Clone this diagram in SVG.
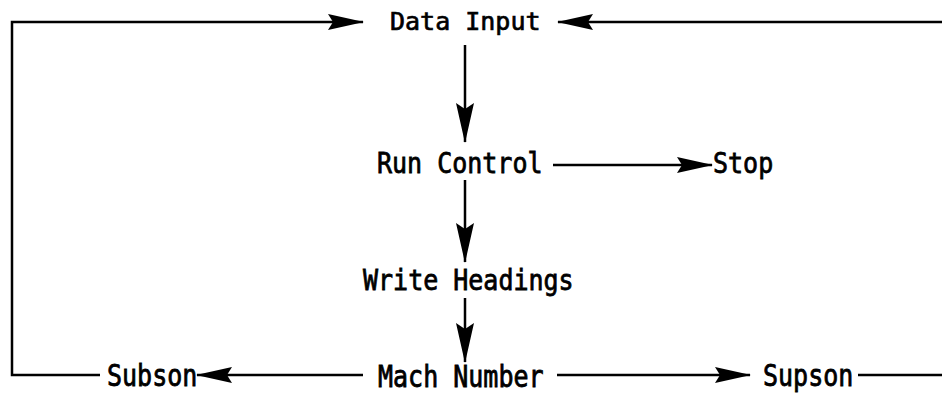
<svg xmlns="http://www.w3.org/2000/svg" width="942" height="393" viewBox="0 0 942 393">
<style>
.t{font-family:"DejaVu Sans Mono","Liberation Mono",monospace;font-size:25px;fill:#000;stroke:#000;stroke-width:0.7}
.c{fill:none;stroke:#000;stroke-width:2.5}
</style>
<defs>
<marker id="ah" viewBox="0 0 36 16" refX="35" refY="8" markerWidth="36" markerHeight="16" markerUnits="userSpaceOnUse" orient="auto">
<path d="M0,0 L36,8 L0,16 L5,8 Z" fill="#000"/>
</marker>
<marker id="av" viewBox="0 0 40 18" refX="39" refY="9" markerWidth="40" markerHeight="18" markerUnits="userSpaceOnUse" orient="auto">
<path d="M0,0 L40,9 L0,18 L6,9 Z" fill="#000"/>
</marker>
</defs>
<rect width="942" height="393" fill="#fff"/>
<g id="connectors">
<path class="c" d="M100,375 H12 V22 H363" marker-end="url(#ah)"/>
<path class="c" d="M942,22 H558" marker-end="url(#ah)"/>
<path class="c" d="M465,45 V142" marker-end="url(#av)"/>
<path class="c" d="M553,165 H712" marker-end="url(#ah)"/>
<path class="c" d="M465,180 V262" marker-end="url(#av)"/>
<path class="c" d="M465,298 V362" marker-end="url(#av)"/>
<path class="c" d="M363,375 H197" marker-end="url(#ah)"/>
<path class="c" d="M557,375 H750" marker-end="url(#ah)"/>
<path class="c" d="M858,375 H942"/>
</g>
<g id="data-input"><text class="t" transform="translate(390,30)">Data Input</text></g>
<g id="run-control"><text class="t" transform="translate(377,173) scale(1,1.1)">Run Control</text></g>
<g id="stop"><text class="t" transform="translate(713,173) scale(1,1.1)">Stop</text></g>
<g id="write-headings"><text class="t" transform="translate(363,290) scale(1,1.1)">Write Headings</text></g>
<g id="mach-number"><text class="t" transform="translate(378,387) scale(1,1.2)">Mach Number</text></g>
<g id="subson"><text class="t" transform="translate(107,386) scale(1,1.2)">Subson</text></g>
<g id="supson"><text class="t" transform="translate(763,386) scale(1,1.2)">Supson</text></g>
</svg>
